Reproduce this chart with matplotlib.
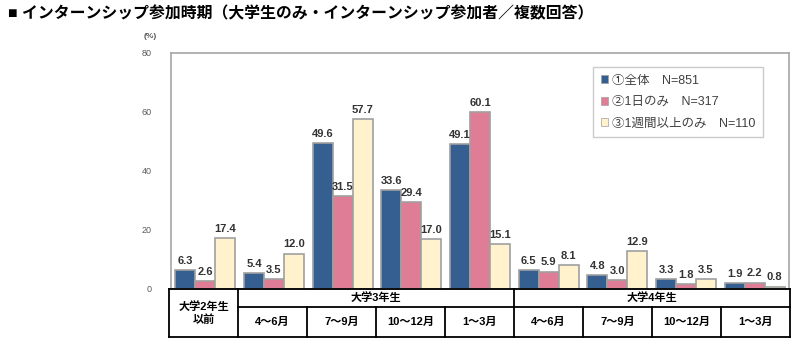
import numpy as np
import matplotlib.pyplot as plt

plt.rcParams['font.family'] = ['Liberation Sans', 'Noto Sans CJK JP', 'DejaVu Sans']

# data
months = ["4～6月", "7～9月", "10～12月", "1～3月"]
first_col = "大学2年生\n以前"
year_groups = ["大学3年生", "大学4年生"]
series_names = ["①全体　N=851", "②1日のみ　N=317", "③1週間以上のみ　N=110"]
all_vals = [6.3, 5.4, 49.6, 33.6, 49.1, 6.5, 4.8, 3.3, 1.9]
day1_vals = [2.6, 3.5, 31.5, 29.4, 60.1, 5.9, 3.0, 1.8, 2.2]
week_vals = [17.4, 12.0, 57.7, 17.0, 15.1, 8.1, 12.9, 3.5, 0.8]
colors = ["#355E91", "#E07D96", "#FFF2CC"]
yticks = [0, 20, 40, 60, 80]

fig = plt.figure(figsize=(8, 3.47), dpi=100)
ax = fig.add_axes([171/800, 1 - 289/347, 618/800, 236/347])

x = np.arange(len(all_vals))
w = 0.29
for i, (vals, c, name) in enumerate(zip([all_vals, day1_vals, week_vals], colors, series_names)):
    pos = x + (i - 1) * w
    ax.bar(pos, vals, width=w, color=c, edgecolor="#A0A0A0", linewidth=1.2, label=name, zorder=2)
    for px, v in zip(pos, vals):
        ax.annotate(f"{v:.1f}", (px, v), xytext=(0, 3), textcoords="offset points",
                    ha="center", va="bottom", fontsize=8, fontweight="bold", color="#333333")

ax.set_xlim(-0.5, len(all_vals) - 0.5)
ax.set_ylim(0, 80)
ax.set_yticks(yticks)
ax.set_yticklabels([str(t) for t in yticks], fontsize=6.5, color="#595959")
ax.tick_params(axis="y", length=0, pad=14)
ax.set_xticks([])
for s in ax.spines.values():
    s.set_color("#A6A6A6")
    s.set_linewidth(1.2)
fig.text(150/800, 1 - 37/347, "(%)", fontsize=6, color="#595959", ha="center", va="center",
         fontweight="bold")

leg = ax.legend(loc="upper left", bbox_to_anchor=(0.683, 0.94), borderaxespad=0, fontsize=9,
                frameon=True, fancybox=False, edgecolor="#BFBFBF", handlelength=0.6,
                handleheight=0.6, handletextpad=0.3, labelspacing=0.75, borderpad=0.6,
                labelcolor="#404040")
for h in leg.legend_handles:
    h.set_linewidth(0.5)

# category table below the plot
tb = fig.add_axes([169/800, 1 - 337/347, 621/800, 48/347])
tb.set_xlim(-0.5, len(all_vals) - 0.5)
tb.set_ylim(0, 1)
tb.axis("off")
mid = 0.625
lk = dict(color="black", lw=1.3, clip_on=False)
tb.plot([-0.5, 8.5], [1, 1], **lk)
tb.plot([-0.5, 8.5], [0, 0], **lk)
tb.plot([0.5, 8.5], [mid, mid], **lk)
for xv in [-0.5, 0.5, 4.5, 8.5]:
    tb.plot([xv, xv], [0, 1], **lk)
for xv in [1.5, 2.5, 3.5, 5.5, 6.5, 7.5]:
    tb.plot([xv, xv], [0, mid], **lk)

tf = dict(ha="center", va="center", fontsize=8, fontweight="bold", color="black")
tb.text(0, 0.5, first_col, linespacing=1.3, **tf)
tb.text(2.5, (1 + mid) / 2, year_groups[0], **tf)
tb.text(6.5, (1 + mid) / 2, year_groups[1], **tf)
for k, m in enumerate(months + months):
    tb.text(k + 1, mid / 2, m, **tf)

fig.text(8/800, 1 - 14/347, "■ インターンシップ参加時期（大学生のみ・インターンシップ参加者／複数回答）",
         fontsize=11.4, fontweight="bold", ha="left", va="center", color="black")

fig.savefig("out.png", dpi=100)
